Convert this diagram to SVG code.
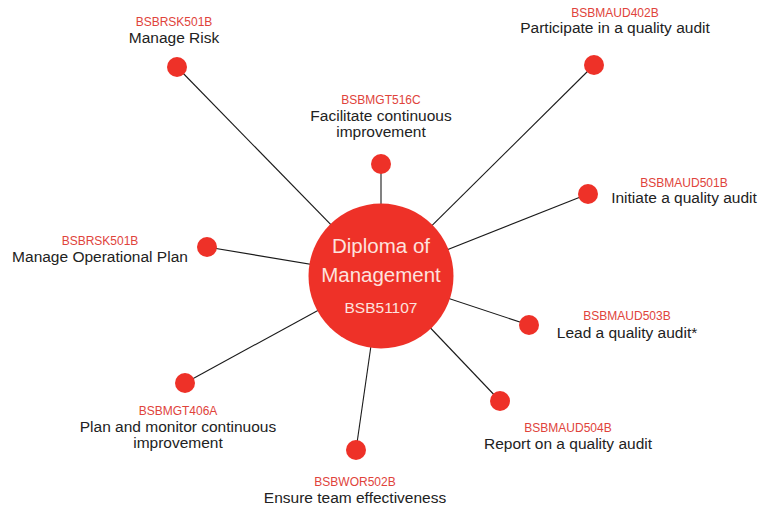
<svg xmlns="http://www.w3.org/2000/svg" width="766" height="507" viewBox="0 0 766 507">
<style>
.bg{fill:#ffffff}
.ln{stroke:#1a1a1a;stroke-width:1.1;fill:none}
.dot{fill:#ee3128}
.hub{fill:#ee3128}
.code{font-family:"Liberation Sans",Arial,sans-serif;font-size:12px;fill:#e0433b;text-anchor:middle}
.lbl{font-family:"Liberation Sans",Arial,sans-serif;font-size:15.5px;fill:#222222;text-anchor:middle}
.hubt{font-family:"Liberation Sans",Arial,sans-serif;font-size:20.5px;fill:#fde2de;text-anchor:middle}
.hubc{font-family:"Liberation Sans",Arial,sans-serif;font-size:15.5px;fill:#fde2de;text-anchor:middle}
</style>
<rect class="bg" x="0" y="0" width="766" height="507"/>
<g id="connectors">
<line class="ln" x1="177" y1="67" x2="381" y2="276"/>
<line class="ln" x1="594" y1="65" x2="381" y2="276"/>
<line class="ln" x1="381" y1="164" x2="381" y2="276"/>
<line class="ln" x1="207" y1="247" x2="381" y2="276"/>
<line class="ln" x1="588" y1="194" x2="381" y2="276"/>
<line class="ln" x1="529" y1="325" x2="381" y2="276"/>
<line class="ln" x1="185" y1="383" x2="381" y2="276"/>
<line class="ln" x1="356" y1="450" x2="381" y2="276"/>
<line class="ln" x1="500" y1="401" x2="381" y2="276"/>
</g>
<g id="hub">
<circle class="hub" cx="381" cy="276" r="72.5"/>
<text class="hubt" x="381" y="253">Diploma of</text>
<text class="hubt" x="381" y="282">Management</text>
<text class="hubc" x="381" y="313">BSB51107</text>
</g>
<g id="n-risk">
<circle class="dot" cx="177" cy="67" r="10"/>
<text class="code" x="174" y="26">BSBRSK501B</text>
<text class="lbl" x="174" y="43">Manage Risk</text>
</g>
<g id="n-participate">
<circle class="dot" cx="594" cy="65" r="10"/>
<text class="code" x="615" y="17">BSBMAUD402B</text>
<text class="lbl" x="615" y="33">Participate in a quality audit</text>
</g>
<g id="n-facilitate">
<circle class="dot" cx="381" cy="164" r="10"/>
<text class="code" x="381" y="104">BSBMGT516C</text>
<text class="lbl" x="381" y="121">Facilitate continuous</text>
<text class="lbl" x="381" y="137">improvement</text>
</g>
<g id="n-operational">
<circle class="dot" cx="207" cy="247" r="10"/>
<text class="code" x="100" y="245">BSBRSK501B</text>
<text class="lbl" x="100" y="262">Manage Operational Plan</text>
</g>
<g id="n-initiate">
<circle class="dot" cx="588" cy="194" r="10"/>
<text class="code" x="684" y="187">BSBMAUD501B</text>
<text class="lbl" x="684" y="203">Initiate a quality audit</text>
</g>
<g id="n-lead">
<circle class="dot" cx="529" cy="325" r="10"/>
<text class="code" x="627" y="320">BSBMAUD503B</text>
<text class="lbl" x="627" y="338">Lead a quality audit*</text>
</g>
<g id="n-plan">
<circle class="dot" cx="185" cy="383" r="10"/>
<text class="code" x="178" y="415">BSBMGT406A</text>
<text class="lbl" x="178" y="432">Plan and monitor continuous</text>
<text class="lbl" x="178" y="448">improvement</text>
</g>
<g id="n-ensure">
<circle class="dot" cx="356" cy="450" r="10"/>
<text class="code" x="355" y="486">BSBWOR502B</text>
<text class="lbl" x="355" y="503">Ensure team effectiveness</text>
</g>
<g id="n-report">
<circle class="dot" cx="500" cy="401" r="10"/>
<text class="code" x="568" y="432">BSBMAUD504B</text>
<text class="lbl" x="568" y="449">Report on a quality audit</text>
</g>
</svg>
